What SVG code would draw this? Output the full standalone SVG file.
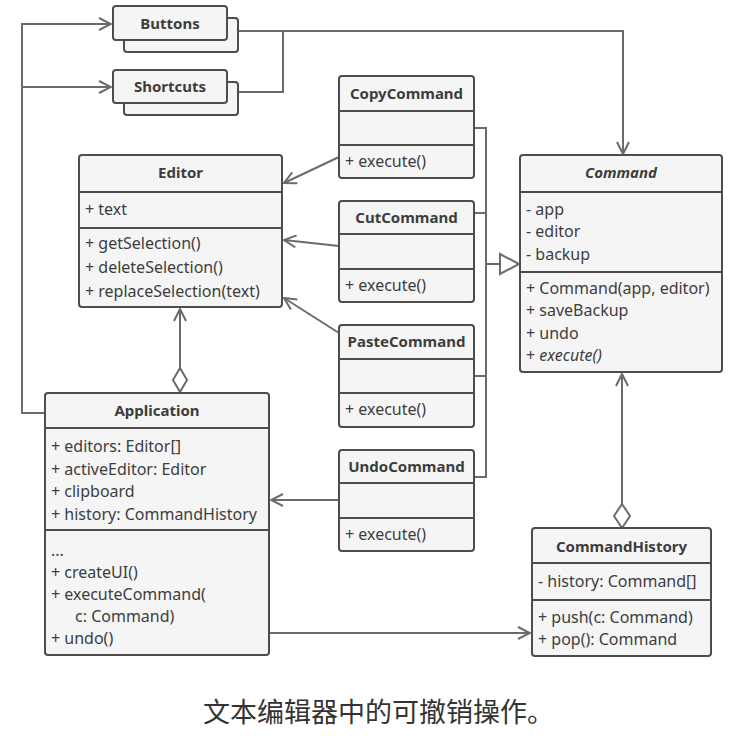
<svg xmlns="http://www.w3.org/2000/svg" width="736" height="738" viewBox="0 0 736 738">
<defs>
<style>
.box{fill:#f5f5f5;stroke:#4d4d4d;stroke-width:2}
.sep{stroke:#4d4d4d;stroke-width:2}
.t{font-family:"Noto Sans","Open Sans","DejaVu Sans",sans-serif;font-size:16px;fill:#3d3d3d}
.h{font-family:"Noto Sans","Open Sans","DejaVu Sans",sans-serif;font-size:15px;font-weight:bold;fill:#3d3d3d;text-anchor:middle}
.i{font-style:italic}
.c{fill:none;stroke:#6b6b6b;stroke-width:2}
.cap{font-family:"Noto Sans CJK SC","Noto Sans",sans-serif;font-size:27px;fill:#333}
</style>
<marker id="arr" viewBox="0 0 14 14" refX="13" refY="7" markerWidth="14" markerHeight="14" markerUnits="userSpaceOnUse" orient="auto">
<path d="M1,1 L13,7 L1,13" fill="none" stroke="#6b6b6b" stroke-width="2"/>
</marker>
</defs>
<rect width="736" height="738" fill="#fff"/>

<g id="connectors">
<path class="c" d="M45,413 H22 V24 H111" marker-end="url(#arr)"/>
<path class="c" d="M22,87 H111" marker-end="url(#arr)"/>
<path class="c" d="M238,31 H623 V154" marker-end="url(#arr)"/>
<path class="c" d="M238,92 H283 V31"/>
<path class="c" d="M339,157 L284,183" marker-end="url(#arr)"/>
<path class="c" d="M339,246 L284,240" marker-end="url(#arr)"/>
<path class="c" d="M339,333 L284,298" marker-end="url(#arr)"/>
<path class="c" d="M339,500 H271" marker-end="url(#arr)"/>
<path class="c" d="M474,128 H486 V477 H474 M474,213 H486 M474,376 H486 M486,264 H500"/>
<path d="M500,254 L519,264 L500,274 Z" fill="#fff" stroke="#6b6b6b" stroke-width="2"/>
<path class="c" d="M180,368 V309" marker-end="url(#arr)"/>
<path d="M180,368 L187,380 L180,392 L173,380 Z" fill="#fff" stroke="#6b6b6b" stroke-width="2"/>
<path class="c" d="M622,504 V374" marker-end="url(#arr)"/>
<path d="M622,504 L630,516 L622,528 L614,516 Z" fill="#fff" stroke="#6b6b6b" stroke-width="2"/>
<path class="c" d="M269,633 H530" marker-end="url(#arr)"/>
</g>

<g id="Buttons">
<rect class="box" x="124" y="18" width="114" height="34" rx="3"/>
<rect class="box" x="113" y="6" width="114" height="34" rx="3"/>
<text class="h" x="170" y="29">Buttons</text>
</g>
<g id="Shortcuts">
<rect class="box" x="124" y="82" width="114" height="33" rx="3"/>
<rect class="box" x="113" y="70" width="114" height="33" rx="3"/>
<text class="h" x="170" y="92">Shortcuts</text>
</g>

<g id="Editor">
<rect class="box" x="79" y="155" width="203" height="152" rx="3"/>
<line class="sep" x1="79" y1="192" x2="282" y2="192"/>
<line class="sep" x1="79" y1="228" x2="282" y2="228"/>
<text class="h" x="180.5" y="178">Editor</text>
<text class="t" x="85" y="215">+ text</text>
<text class="t" x="85" y="249">+ getSelection()</text>
<text class="t" x="85" y="273">+ deleteSelection()</text>
<text class="t" x="85" y="297">+ replaceSelection(text)</text>
</g>

<g id="CopyCommand">
<rect class="box" x="339" y="76" width="135" height="102" rx="3"/>
<line class="sep" x1="339" y1="111" x2="474" y2="111"/>
<line class="sep" x1="339" y1="145" x2="474" y2="145"/>
<text class="h" x="406.5" y="99">CopyCommand</text>
<text class="t" x="345" y="167">+ execute()</text>
</g>
<g id="CutCommand">
<rect class="box" x="339" y="201" width="135" height="101" rx="3"/>
<line class="sep" x1="339" y1="234" x2="474" y2="234"/>
<line class="sep" x1="339" y1="269" x2="474" y2="269"/>
<text class="h" x="406.5" y="223">CutCommand</text>
<text class="t" x="345" y="291">+ execute()</text>
</g>
<g id="PasteCommand">
<rect class="box" x="339" y="325" width="135" height="102" rx="3"/>
<line class="sep" x1="339" y1="359" x2="474" y2="359"/>
<line class="sep" x1="339" y1="393" x2="474" y2="393"/>
<text class="h" x="406.5" y="347">PasteCommand</text>
<text class="t" x="345" y="415">+ execute()</text>
</g>
<g id="UndoCommand">
<rect class="box" x="339" y="450" width="135" height="101" rx="3"/>
<line class="sep" x1="339" y1="483" x2="474" y2="483"/>
<line class="sep" x1="339" y1="518" x2="474" y2="518"/>
<text class="h" x="406.5" y="472">UndoCommand</text>
<text class="t" x="345" y="540">+ execute()</text>
</g>

<g id="Command">
<rect class="box" x="520" y="155" width="202" height="217" rx="3"/>
<line class="sep" x1="520" y1="192" x2="722" y2="192"/>
<line class="sep" x1="520" y1="272" x2="722" y2="272"/>
<text class="h i" x="621" y="178">Command</text>
<text class="t" x="526" y="215">- app</text>
<text class="t" x="526" y="237">- editor</text>
<text class="t" x="526" y="260">- backup</text>
<text class="t" x="526" y="294">+ Command(app, editor)</text>
<text class="t" x="526" y="316">+ saveBackup</text>
<text class="t" x="526" y="339">+ undo</text>
<text class="t" x="526" y="361">+ <tspan class="i">execute()</tspan></text>
</g>

<g id="Application">
<rect class="box" x="45" y="393" width="224" height="262" rx="3"/>
<line class="sep" x1="45" y1="428" x2="269" y2="428"/>
<line class="sep" x1="45" y1="530" x2="269" y2="530"/>
<text class="h" x="157" y="416">Application</text>
<text class="t" x="51" y="452">+ editors: Editor[]</text>
<text class="t" x="51" y="474.5">+ activeEditor: Editor</text>
<text class="t" x="51" y="497">+ clipboard</text>
<text class="t" x="51" y="519.5">+ history: CommandHistory</text>
<text class="t" x="51" y="556">...</text>
<text class="t" x="51" y="578">+ createUI()</text>
<text class="t" x="51" y="600">+ executeCommand(</text>
<text class="t" x="75" y="622">c: Command)</text>
<text class="t" x="51" y="644">+ undo()</text>
</g>

<g id="CommandHistory">
<rect class="box" x="532" y="528" width="179" height="128" rx="3"/>
<line class="sep" x1="532" y1="563" x2="711" y2="563"/>
<line class="sep" x1="532" y1="600" x2="711" y2="600"/>
<text class="h" x="621.5" y="552">CommandHistory</text>
<text class="t" x="538" y="587">- history: Command[]</text>
<text class="t" x="538" y="623">+ push(c: Command)</text>
<text class="t" x="538" y="645">+ pop(): Command</text>
</g>

<text class="cap" x="203" y="722">文本编辑器中的可撤销操作。</text>
</svg>
